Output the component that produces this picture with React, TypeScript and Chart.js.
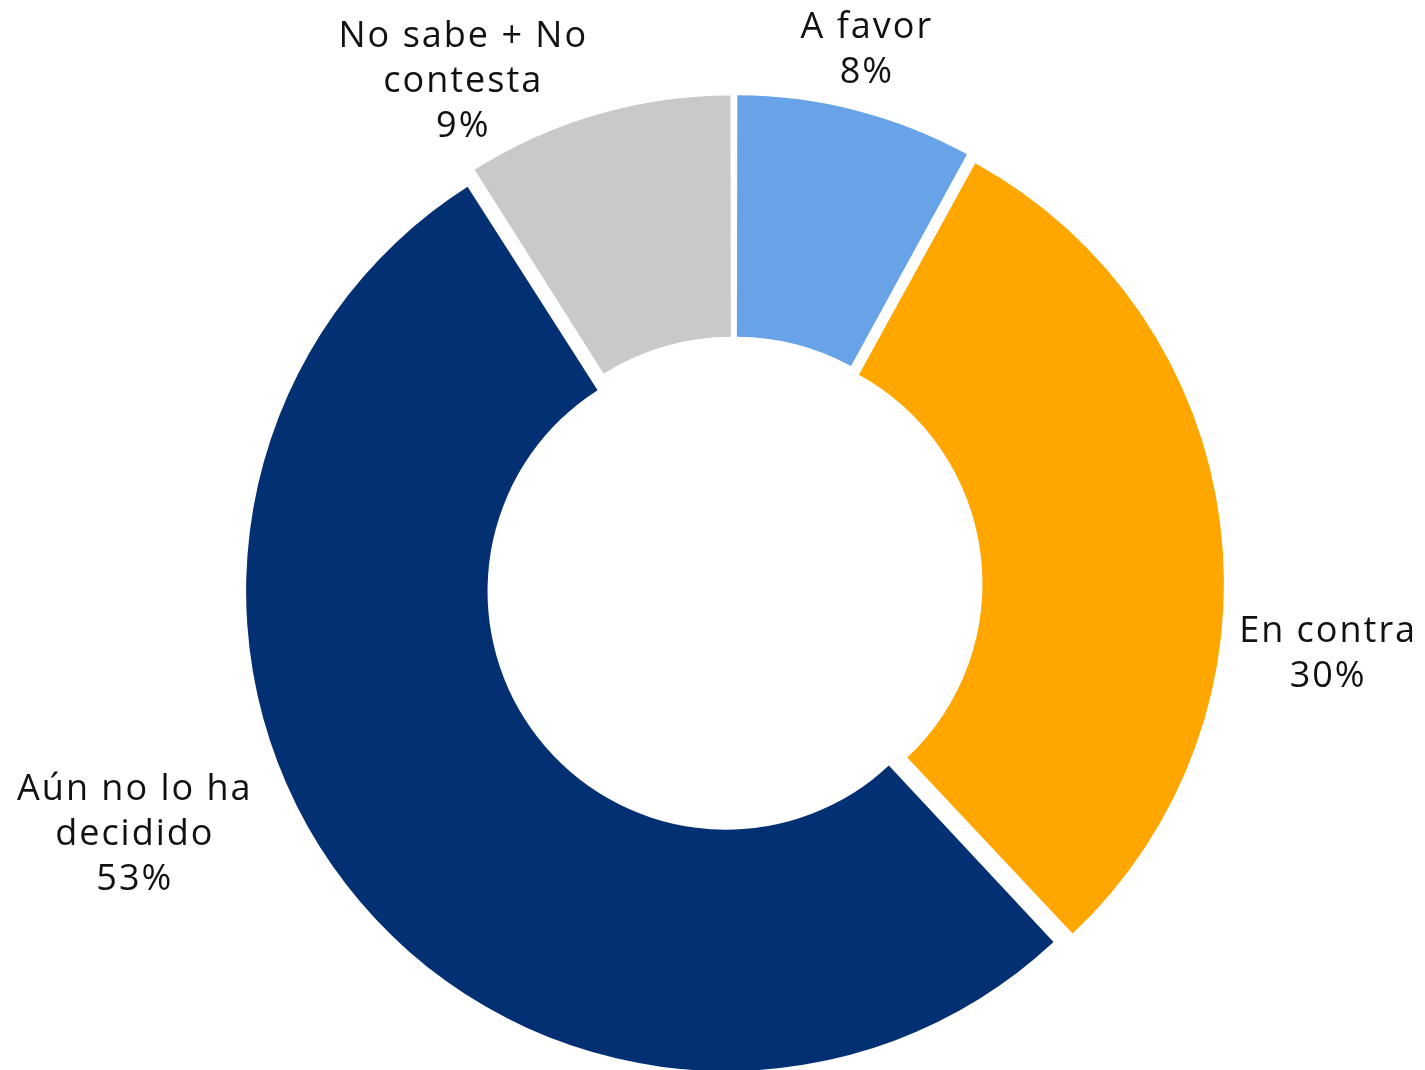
import React, { useEffect, useRef } from "react";
import { Chart, registerables } from "chart.js";

Chart.register(...registerables);

// ---- data ----
const categories = ["A favor", "En contra", "Aún no lo ha decidido", "No sabe + No contesta"];
const values = [8, 30, 53, 9];
const sliceColors = ["#67A3E6", "#FFA600", "#032F73", "#C9C9C9"];

// ---- layout / style ----
const EXPLODE = 40; // Chart.js offset units (translation = offset / 4)
const FONT = '36px "Open Sans"';
const LETTER_SPACING = "2px";
const LINE_H = 45;
const WRAP_W = 275;
const labelNudges: [number, number][] = [
  [10, -60],
  [107, 131],
  [-213, -51],
  [-135, -33],
];

function wrapText(ctx: CanvasRenderingContext2D, text: string, maxW: number): string[] {
  const words = text.split(" ");
  const lines: string[] = [];
  let cur = "";
  for (const w of words) {
    const test = cur ? cur + " " + w : w;
    if (cur && ctx.measureText(test).width > maxW) {
      lines.push(cur);
      cur = w;
    } else {
      cur = test;
    }
  }
  if (cur) lines.push(cur);
  return lines;
}

// keep exploded slices at the same radius (Chart.js grows radius with offset)
const explodeFix = {
  id: "explodeFix",
  beforeDatasetsDraw(chart: any) {
    const meta = chart.getDatasetMeta(0);
    const ctrl = meta.controller as any;
    meta.data.forEach((arc: any) => {
      const off = (arc.options.offset || 0) / 4;
      const circ = arc.endAngle - arc.startAngle;
      const fix = 1 - Math.sin(Math.min(Math.PI, circ));
      arc.outerRadius = ctrl.outerRadius - off * fix;
      arc.innerRadius = ctrl.innerRadius - off * fix;
    });
  },
};

const outsideLabels = {
  id: "outsideLabels",
  afterDatasetsDraw(chart: any) {
    const ctx: CanvasRenderingContext2D = chart.ctx;
    const meta = chart.getDatasetMeta(0);
    const ctrl = meta.controller as any;
    ctx.save();
    ctx.font = FONT;
    (ctx as any).letterSpacing = LETTER_SPACING;
    ctx.fillStyle = "#111111";
    ctx.textAlign = "center";
    ctx.textBaseline = "middle";
    meta.data.forEach((arc: any, i: number) => {
      const mid = (arc.startAngle + arc.endAngle) / 2;
      const off = (arc.options.offset || 0) / 4;
      const r = ctrl.outerRadius + off;
      const ax = arc.x + Math.cos(mid) * r;
      const ay = arc.y + Math.sin(mid) * r;
      const lines = [...wrapText(ctx, categories[i], WRAP_W), values[i] + "%"];
      const [dx, dy] = labelNudges[i];
      const cx = ax + dx;
      const cy = ay + dy;
      lines.forEach((ln, k) => {
        ctx.fillText(ln, cx + 1, cy + (k - (lines.length - 1) / 2) * LINE_H);
      });
    });
    ctx.restore();
  },
};

export default function App() {
  const ref = useRef<HTMLCanvasElement | null>(null);
  useEffect(() => {
    if (!ref.current) return;
    const chart = new Chart(ref.current, {
      type: "doughnut",
      data: {
        labels: categories,
        datasets: [
          {
            data: values,
            backgroundColor: sliceColors,
            borderWidth: 0,
            offset: EXPLODE,
            hoverOffset: 0,
          },
        ],
      },
      options: {
        animation: false,
        responsive: false,
        radius: 480,
        cutout: "49.7%",
        layout: { padding: { left: 43, top: 100, right: 0, bottom: 0 } },
        plugins: {
          legend: { display: false },
          tooltip: { enabled: false },
        },
      } as any,
      plugins: [explodeFix, outsideLabels],
    });
    return () => chart.destroy();
  }, []);
  return (
    <div style={{ position: "absolute", left: 0, top: 0, width: 1425, height: 1070, background: "#fff" }}>
      <canvas ref={ref} width={1425} height={1070} style={{ display: "block" }} />
    </div>
  );
}
